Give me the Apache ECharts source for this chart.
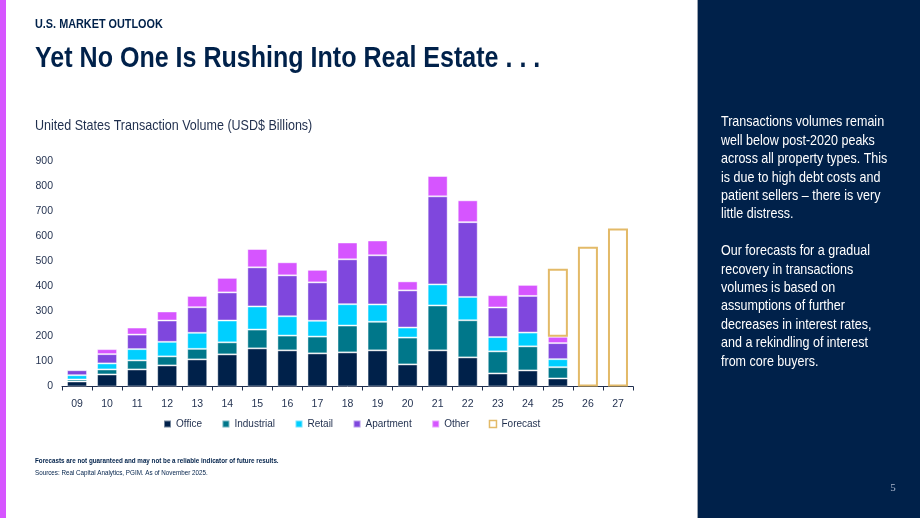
<!DOCTYPE html>
<html>
<head>
<meta charset="utf-8">
<title>U.S. Market Outlook</title>
<script src="https://cdn.jsdelivr.net/npm/echarts@6/dist/echarts.min.js"></script>
<style>
  html, body { margin: 0; padding: 0; background: #fff; }
  #main { width: 920px; height: 518px; }
</style>
</head>
<body>
<div id="main"></div>
<script>
// years 2009 - 2027
var years = ['09','10','11','12','13','14','15','16','17','18','19','20','21','22','23','24','25','26','27'];
var office     = [20, 48, 68, 84, 108, 128, 152, 144, 132, 136, 144, 88, 144, 116, 52, 64, 32, '-', '-'];
var industrial = [8, 20, 36, 36, 42, 48, 75, 59, 67, 107, 114, 107, 179, 148, 88, 96, 45, '-', '-'];
var retail     = [17, 24, 45, 58, 64, 87, 92, 77, 63, 85, 69, 40, 84, 93, 57, 55, 32, '-', '-'];
var apartment  = [20, 37, 58, 85, 102, 112, 156, 163, 153, 179, 196, 148, 351, 298, 118, 146, 64, '-', '-'];
var other      = [4, 20, 28, 36, 45, 58, 73, 52, 50, 67, 59, 36, 81, 87, 49, 44, 25, '-', '-'];
var forecast   = ['-','-','-','-','-','-','-','-','-','-','-','-','-','-','-','-', 271, 557, 630];
var yTicks = [0, 100, 200, 300, 400, 500, 600, 700, 800, 900];

// no narrow font installed, so headline texts get squeezed with scaleX
var sans = '"Liberation Sans", Arial, sans-serif';
var squeeze = 0.835;
var navy = '#00214A';
var ink = '#1F2E4D';

var myChart = echarts.init(document.getElementById('main'));

function seg(name, data, color) {
    return {
        name: name,
        type: 'bar',
        stack: 'total',
        barWidth: 20,
        data: data,
        itemStyle: {
            color: color,
            borderColor: 'rgba(255,255,255,0.45)',
            borderWidth: 1
        }
    };
}

function txt(x, y, text, font, fill, extra) {
    var style = { text: text, fill: fill, font: font, textVerticalAlign: 'middle' };
    for (var k in (extra || {})) { style[k] = extra[k]; }
    return { type: 'text', x: x, y: y, scaleX: squeeze, style: style };
}

var option = {
    animation: false,
    backgroundColor: '#ffffff',
    textStyle: { fontFamily: sans },
    graphic: [
        // magenta stripe on the left
        { type: 'rect', shape: { x: 0, y: 0, width: 6, height: 518 }, style: { fill: '#D655FF' } },
        // right panel
        { type: 'rect', shape: { x: 698, y: 0, width: 222, height: 518 }, style: { fill: '#00214A' } },
        { type: 'rect', shape: { x: 697, y: 0, width: 1, height: 518 }, style: { fill: '#9aa3b0' } },
        txt(35, 24, 'U.S. MARKET OUTLOOK', 'bold 13px ' + sans, navy),
        txt(35, 59, 'Yet No One Is Rushing Into Real Estate . . .', 'bold 30px ' + sans, navy),
        txt(35, 126, 'United States Transaction Volume (USD$ Billions)', '15px ' + sans, ink),
        txt(35, 461, 'Forecasts are not guaranteed and may not be a reliable indicator of future results.', 'bold 7.5px ' + sans, navy),
        txt(35, 473, 'Sources: Real Capital Analytics, PGIM. As of November 2025.', '7.5px ' + sans, navy),
        txt(721, 113,
            'Transactions volumes remain\nwell below post-2020 peaks\nacross all property types. This\nis due to high debt costs and\npatient sellers \u2013 there is very\nlittle distress.\n\nOur forecasts for a gradual\nrecovery in transactions\nvolumes is based on\nassumptions of further\ndecreases in interest rates,\nand a rekindling of interest\nfrom core buyers.',
            '15px ' + sans, '#ffffff', { lineHeight: 18.4, textVerticalAlign: 'top' }),
        { type: 'text', x: 893, y: 488, style: { text: '5', fill: '#A9B6CC', font: '11px "Liberation Serif", serif', textAlign: 'center', textVerticalAlign: 'middle' } }
    ],
    legend: {
        left: 163,
        top: 419,
        padding: 0,
        itemWidth: 7,
        itemHeight: 7,
        itemGap: 19.5,
        icon: 'rect',
        textStyle: { color: ink, fontSize: 10, fontFamily: sans },
        data: [
            { name: 'Office' },
            { name: 'Industrial' },
            { name: 'Retail' },
            { name: 'Apartment' },
            { name: 'Other' },
            { name: 'Forecast', itemStyle: { color: '#ffffff', borderColor: '#E3BA68', borderWidth: 1.5 } }
        ]
    },
    grid: { left: 62, right: 287, top: 160.7, bottom: 131.5, containLabel: false },
    xAxis: {
        type: 'category',
        data: years,
        axisLine: { lineStyle: { color: ink, width: 1 } },
        axisTick: { show: true, length: 4, lineStyle: { color: ink } },
        axisLabel: { color: ink, fontSize: 10.5, margin: 12, fontFamily: sans }
    },
    yAxis: {
        type: 'value',
        min: yTicks[0],
        max: yTicks[yTicks.length - 1],
        interval: 100,
        splitLine: { show: false },
        axisLine: { show: false },
        axisTick: { show: false },
        axisLabel: { color: ink, fontSize: 10.5, margin: 9, fontFamily: sans }
    },
    series: [
        seg('Office', office, '#00214A'),
        seg('Industrial', industrial, '#00778A'),
        seg('Retail', retail, '#00CFFF'),
        seg('Apartment', apartment, '#7F47DD'),
        seg('Other', other, '#D655FF'),
        {
            name: 'Forecast',
            type: 'bar',
            stack: 'total',
            barWidth: 20,
            data: forecast,
            itemStyle: {
                color: 'rgba(255,255,255,0)',
                borderColor: '#E3BA68',
                borderWidth: 2
            }
        }
    ]
};

myChart.setOption(option);
</script>
</body>
</html>
